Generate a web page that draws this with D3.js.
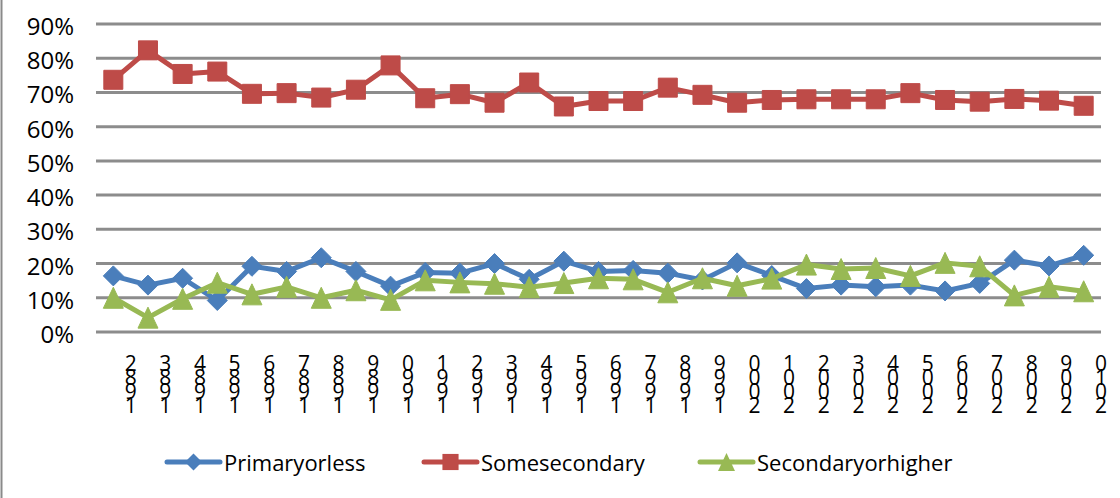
<!DOCTYPE html>
<html>
<head>
<meta charset="utf-8">
<script src="https://cdn.jsdelivr.net/npm/d3@7"></script>
<style>
  html, body { margin: 0; padding: 0; background: #fff; }
  svg { display: block; font-family: "Open Sans", Lato, sans-serif; }
</style>
</head>
<body>
<svg id="chart" width="1120" height="498"></svg>
<script>
const years = ["1982","1983","1984","1985","1986","1987","1988","1989","1990","1991",
  "1992","1993","1994","1995","1996","1997","1998","1999","2000","2001",
  "2002","2003","2004","2005","2006","2007","2008","2009","2010"];
const primaryOrLess = [16.4, 13.7, 15.7, 9.2, 19.2, 17.7, 21.7, 17.7, 13.4, 17.4,
  17.2, 20.0, 15.4, 20.7, 17.7, 18.0, 17.2, 15.2, 20.2, 16.5,
  12.7, 13.7, 13.2, 13.7, 12.0, 14.2, 21.0, 19.3, 22.4];
const someSecondary = [73.7, 82.3, 75.4, 76.1, 69.6, 69.8, 68.5, 70.8, 77.9, 68.3,
  69.5, 67.0, 72.9, 65.9, 67.5, 67.5, 71.4, 69.3, 67.0, 67.8,
  68.0, 68.0, 68.0, 69.8, 67.8, 67.3, 68.1, 67.6, 66.1];
const secondaryOrHigher = [10.0, 4.2, 9.7, 14.4, 11.0, 13.2, 10.0, 12.2, 9.4, 15.1,
  14.5, 14.1, 13.1, 14.3, 15.7, 15.4, 11.6, 15.7, 13.5, 15.6,
  19.7, 18.4, 18.7, 16.4, 20.2, 19.2, 10.7, 13.2, 11.9];
const yTicks = [0, 10, 20, 30, 40, 50, 60, 70, 80, 90];
const seriesNames = ["Primaryorless", "Somesecondary", "Secondaryorhigher"];

const colors = ["#4a7ebb", "#be4b48", "#98b954"];
const shapes = ["diamond", "square", "triangle"];
const seriesValues = [primaryOrLess, someSecondary, secondaryOrHigher];

const svg = d3.select("#chart");

// outer chart border (left edge visible)
svg.append("line").attr("x1", 1.5).attr("x2", 1.5).attr("y1", 0).attr("y2", 498)
  .attr("stroke", "#8a8a8a").attr("stroke-width", 2);

const x = d3.scaleBand().domain(years).range([96, 1101]);
const y = d3.scaleLinear().domain([0, 90]).range([332, 24]);

// gridlines
svg.append("g").selectAll("line").data(yTicks).join("line")
  .attr("x1", 96).attr("x2", 1101)
  .attr("y1", d => y(d)).attr("y2", d => y(d))
  .attr("stroke", "#8c8c8c").attr("stroke-width", 3);

// y labels
svg.append("g").selectAll("text").data(yTicks).join("text")
  .attr("x", 74).attr("y", d => y(d) + 11)
  .attr("text-anchor", "end")
  .attr("font-size", 24).attr("fill", "#000")
  .text(d => d + "%");

// x labels: stacked characters, reversed
const xl = svg.append("g").selectAll("text").data(years).join("text")
  .attr("font-size", 21).attr("fill", "#000").attr("text-anchor", "middle");
xl.each(function(d) {
  const t = d3.select(this);
  const cx = x(d) + x.bandwidth();
  d.split("").reverse().forEach((ch, i) => {
    t.append("tspan").attr("x", cx).attr("y", 371 + i * 14).text(ch);
  });
});

function markerPath(shape) {
  if (shape === "diamond") return "M0,-10L10,0L0,10L-10,0Z";
  if (shape === "square") return "M-9.5,-9.5H9.5V9.5H-9.5Z";
  return "M0,-10.5L10,10.5H-10Z";
}

const line = d3.line().x((d, i) => x(years[i]) + x.bandwidth() / 2).y(d => y(d));

seriesValues.forEach((vals, s) => {
  const g = svg.append("g");
  g.append("path").datum(vals).attr("d", line)
    .attr("fill", "none").attr("stroke", colors[s]).attr("stroke-width", 5)
    .attr("stroke-linejoin", "round");
  g.selectAll("path.m").data(vals).join("path").attr("class", "m")
    .attr("transform", (d, i) => `translate(${x(years[i]) + x.bandwidth() / 2},${y(d)})`)
    .attr("d", markerPath(shapes[s]))
    .attr("fill", colors[s]).attr("stroke", colors[s]).attr("stroke-width", 1)
    .attr("stroke-linejoin", "round");
});

// legend
const legendX = [167, 424, 700];
const leg = svg.append("g");
seriesNames.forEach((name, s) => {
  const lx = legendX[s];
  leg.append("line").attr("x1", lx).attr("x2", lx + 53).attr("y1", 462).attr("y2", 462)
    .attr("stroke", colors[s]).attr("stroke-width", 5).attr("stroke-linecap", "round");
  leg.append("path").attr("transform", `translate(${lx + 26.5},462) scale(0.85)`)
    .attr("d", markerPath(shapes[s])).attr("fill", colors[s]);
  leg.append("text").attr("x", lx + 57).attr("y", 470.5)
    .attr("font-size", 22).attr("fill", "#000").text(name);
});
</script>
</body>
</html>
